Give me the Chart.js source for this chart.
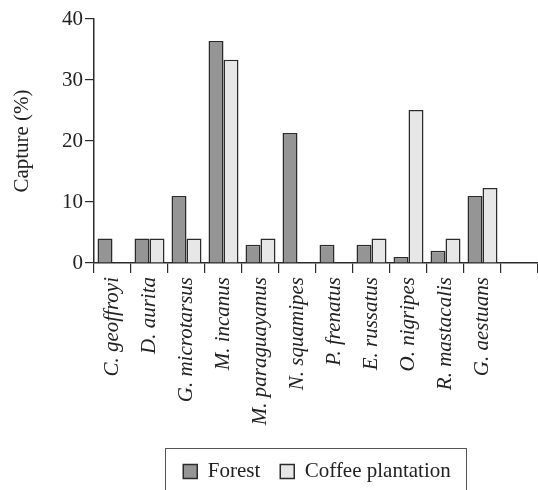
<!DOCTYPE html>
<html>
<head>
<meta charset="utf-8">
<script src="https://cdn.jsdelivr.net/npm/chart.js@4"></script>
<style>
  html, body { margin: 0; padding: 0; background: #fff; }
  #wrap { width: 538px; height: 490px; }
</style>
</head>
<body>
<div id="wrap"><canvas id="chartId"></canvas></div>
<script>
// species, last slot left empty like the original figure
const species = ['C. geoffroyi', 'D. aurita', 'G. microtarsus', 'M. incanus', 'M. paraguayanus',
    'N. squamipes', 'P. frenatus', 'E. russatus', 'O. nigripes', 'R. mastacalis', 'G. aestuans', ''];
const forest = [4, 4, 11, 36.4, 3, 21.3, 3, 3, 1, 2, 11, null];
const coffee = [null, 4, 4, 33.3, 4, null, null, 4, 25.1, 4, 12.3, null];
const yTicks = [0, 10, 20, 30, 40];

const serif = 'Liberation Serif';
const ink = '#2b2b2b';
const legendPad = 20;
const legendFont = 21;
const legendShift = 1;
const legendDrop = 2;

// legend sits under the plot area (not the canvas) and gets a frame
const legendFrame = {
    id: 'legendFrame',
    afterLayout(chart) {
        const lg = chart.legend;
        lg.left = chart.chartArea.left + legendShift;
        lg.right = chart.chartArea.right + legendShift;
        lg.top += legendDrop;
        lg.bottom += legendDrop;
    },
    afterDraw(chart) {
        const lg = chart.legend;
        if (!lg || !lg.legendHitBoxes.length) return;
        const first = lg.legendHitBoxes[0];
        const last = lg.legendHitBoxes[lg.legendHitBoxes.length - 1];
        const c = chart.ctx;
        c.save();
        c.strokeStyle = '#555';
        c.lineWidth = 1;
        const x0 = Math.round(first.left - 18) + 0.5;
        const x1 = Math.round(last.left + last.width + 15) + 0.5;
        const y0 = Math.round(first.top - 13) + 0.5;
        c.strokeRect(x0, y0, x1 - x0, 80);
        c.restore();
    }
};

var chrt = document.getElementById('chartId').getContext('2d');
var chartId = new Chart(chrt, {
    type: 'bar',
    data: {
        labels: species,
        datasets: [{
            label: 'Forest',
            data: forest,
            backgroundColor: '#959595',
            borderColor: ink,
            borderWidth: 1.5
        }, {
            label: 'Coffee plantation',
            data: coffee,
            backgroundColor: '#e6e7e6',
            borderColor: ink,
            borderWidth: 1.5
        }]
    },
    options: {
        responsive: true,
        maintainAspectRatio: false,
        animation: false,
        layout: { padding: { top: 19, left: 0, right: 0, bottom: 0 } },
        datasets: { bar: { categoryPercentage: 0.81, barPercentage: 1 } },
        plugins: {
            tooltip: { enabled: false },
            legend: {
                position: 'bottom',
                onClick: null,
                labels: {
                    font: { family: serif, size: legendFont },
                    color: '#222',
                    boxWidth: 14,
                    boxHeight: 14,
                    padding: legendPad
                }
            }
        },
        scales: {
            x: {
                // legend box is padding + item height + 10 tall
                afterFit(scale) {
                    scale.height = 490 - 263 - (legendPad + legendFont + 10);
                    scale.paddingRight = 0; // axis runs to the right edge
                },
                grid: { display: true, drawOnChartArea: false, drawTicks: true, tickLength: 10, color: ink, lineWidth: 1.2 },
                border: { display: true, color: ink, width: 1.5 },
                ticks: {
                    minRotation: 90, maxRotation: 90, autoSkip: false,
                    padding: 4,
                    color: '#222',
                    font: { family: serif, size: 21, style: 'italic' }
                }
            },
            y: {
                min: 0, max: 40,
                afterFit(scale) { scale.width = 94; },
                afterBuildTicks(scale) { scale.ticks = yTicks.map(v => ({ value: v })); },
                grid: { display: true, drawOnChartArea: false, drawTicks: true, tickLength: 9, color: ink, lineWidth: 1.2 },
                border: { display: true, color: ink, width: 1.5 },
                ticks: {
                    padding: 2,
                    color: '#222',
                    font: { family: serif, size: 21 }
                },
                title: {
                    display: true,
                    text: 'Capture (%)',
                    color: '#222',
                    font: { family: serif, size: 21 },
                    padding: { top: 10, bottom: 0 }
                }
            }
        }
    },
    plugins: [legendFrame]
});
</script>
</body>
</html>
